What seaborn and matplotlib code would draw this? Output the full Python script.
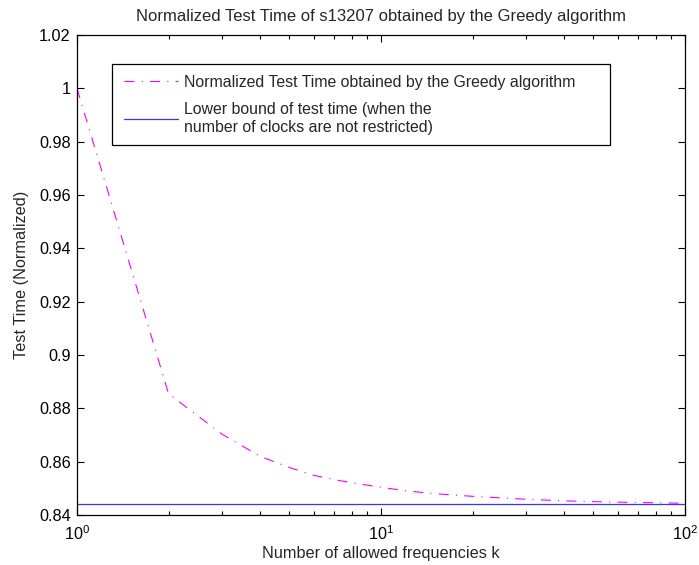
import numpy as np
import pandas as pd
import seaborn as sns
import matplotlib
matplotlib.use("Agg")
import matplotlib.pyplot as plt
from matplotlib.patches import Rectangle
from matplotlib.ticker import LogLocator, FuncFormatter, FixedLocator

# ---- data ----
k_values = [1, 2, 3, 4, 5, 6, 7, 8, 10, 12, 15, 20, 25, 30, 40, 50, 60, 70, 80, 100]
greedy_time = [1.0, 0.8855, 0.8703, 0.862, 0.8578, 0.8549, 0.8533, 0.8521, 0.8504,
               0.8491, 0.848, 0.847, 0.8464, 0.8459, 0.8453, 0.845, 0.8448, 0.8447,
               0.8446, 0.8444]
bound_k = [1, 100]
lower_bound = [0.844, 0.844]
y_ticks = [0.84, 0.86, 0.88, 0.9, 0.92, 0.94, 0.96, 0.98, 1.0, 1.02]

label_greedy = "Normalized Test Time obtained by the Greedy algorithm"
label_bound = "Lower bound of test time (when the\nnumber of clocks are not restricted)"

sns.set_style("ticks")
plt.rcParams["font.family"] = ["Liberation Sans", "DejaVu Sans"]
plt.rcParams["mathtext.fontset"] = "custom"
plt.rcParams["mathtext.rm"] = "Liberation Sans"
plt.rcParams["mathtext.it"] = "Liberation Sans:italic"
plt.rcParams["lines.scale_dashes"] = False

FS = 11.7

df_g = pd.DataFrame({"k": k_values, "t": greedy_time})
df_b = pd.DataFrame({"k": bound_k, "t": lower_bound})

W, H = 699, 565
fig = plt.figure(figsize=(W / 100, H / 100), dpi=100)
ax = fig.add_axes([77 / W, 50 / H, 608 / W, 480 / H])

sns.lineplot(data=df_g, x="k", y="t", ax=ax, color="#FF00FF", linewidth=0.8,
             label=label_greedy)
sns.lineplot(data=df_b, x="k", y="t", ax=ax, color="#3535FF", linewidth=0.9,
             label=label_bound)
ax.lines[0].set_dashes((7.2, 5.2, 0.8, 5.2))

ax.set_xscale("log")
ax.set_xlim(1, 100)
ax.set_ylim(0.84, 1.02)
ax.yaxis.set_major_locator(FixedLocator(y_ticks))
ax.yaxis.set_major_formatter(FuncFormatter(lambda v, p: f"{v:g}"))
ax.xaxis.set_major_locator(LogLocator(base=10, numticks=5))
ax.xaxis.set_minor_locator(LogLocator(base=10, subs=np.arange(2, 10), numticks=20))

ax.tick_params(axis="both", which="both", direction="in", top=True, right=True,
               labelsize=FS, colors="black", width=0.8)
ax.tick_params(axis="y", which="major", length=5, pad=4.5)
ax.tick_params(axis="x", which="major", length=5, pad=7)
ax.tick_params(axis="x", which="minor", length=3)
for s in ax.spines.values():
    s.set_linewidth(0.9)
    s.set_color("black")

ax.set_xlabel("Number of allowed frequencies k", fontsize=FS, labelpad=2)
ax.set_ylabel("Test Time (Normalized)", fontsize=FS, labelpad=7)
ax.set_title("Normalized Test Time of s13207 obtained by the Greedy algorithm",
             fontsize=12, pad=10)

# legend (frame drawn separately to match the wide box of the original)
leg = ax.legend(loc="upper left", bbox_to_anchor=(112 / W, 1 - 63 / H),
                bbox_transform=fig.transFigure, borderaxespad=0,
                fontsize=11.4, frameon=False,
                handlelength=3.4, handletextpad=0.4, borderpad=0.75,
                labelspacing=0.75)
for t in leg.get_texts():
    t.set_linespacing(1.3)
fig.add_artist(Rectangle((112 / W, 1 - 145 / H), 498 / W, 81 / H,
                         transform=fig.transFigure, fill=True, facecolor="white",
                         edgecolor="black", linewidth=0.9, zorder=2))
leg.set_zorder(3)
fig.add_artist(leg)

fig.savefig("out.png", dpi=100)
